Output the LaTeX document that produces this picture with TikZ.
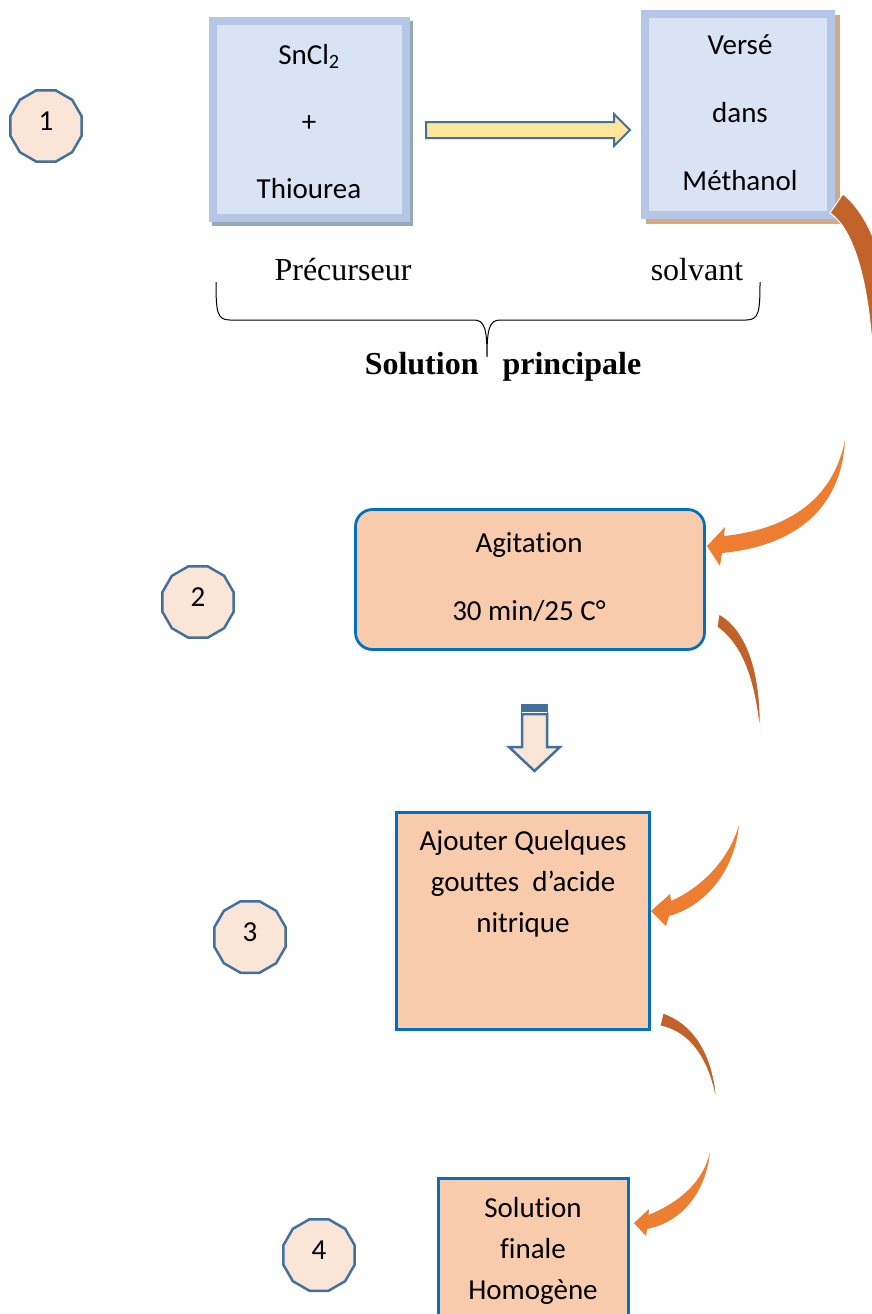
\documentclass[tikz,border=0pt]{standalone}
\usepackage{fontspec}
\setmainfont{Carlito}[Ligatures=NoCommon]
\newfontfamily\timesfont{Liberation Serif}
\usetikzlibrary{shapes.geometric}

\definecolor{stepfill}{HTML}{FBE5D6}
\definecolor{steelb}{HTML}{41719C}
\definecolor{paleblue}{HTML}{DAE3F3}
\definecolor{midblue}{HTML}{B4C7E7}
\definecolor{greyshadow}{HTML}{93A9B4}
\definecolor{tanshadow}{HTML}{D6A986}
\definecolor{peach}{HTML}{F8CBAD}
\definecolor{boxblue}{HTML}{0070C0}
\definecolor{arrowyellow}{HTML}{FFE699}
\definecolor{rust}{HTML}{C0622A}
\definecolor{tangerine}{HTML}{ED7D31}

\begin{document}
\begin{tikzpicture}[x=1pt,y=-1pt,
  txt/.style={anchor=base, inner sep=0pt, font=\fontsize{29}{35}\selectfont},
  serif/.style={anchor=base, inner sep=0pt, font=\timesfont\fontsize{32}{38}\selectfont},
  serifbold/.style={serif, font=\timesfont\bfseries\fontsize{32}{38}\selectfont},
  stepmark/.style={regular polygon, regular polygon sides=12, minimum size=74pt,
    inner sep=0pt, draw=steelb, fill=stepfill, line width=2.5pt},
  bluebox/.style={rectangle, draw=midblue, fill=paleblue, line width=8pt, inner sep=0pt},
  shadowbox/.style={rectangle, inner sep=0pt},
  peachbox/.style={rectangle, draw=boxblue, fill=peach, line width=2.75pt, inner sep=0pt},
  rustband/.style={fill=rust, draw=white, line width=1pt},
  orangearrow/.style={fill=tangerine}
]
\useasboundingbox (0,0) rectangle (872,1314);

% ---------- step markers ----------
\node[stepmark] (s1) at (46,126) {};
\node[txt] (n1) at (46,130) {1};
\node[stepmark] (s2) at (198,602) {};
\node[txt] (n2) at (198,606) {2};
\node[stepmark] (s3) at (250,937) {};
\node[txt] (n3) at (250,941) {3};
\node[stepmark] (s4) at (319,1255) {};
\node[txt] (n4) at (319,1259) {4};

% ---------- precursor box ----------
\node[shadowbox, fill=greyshadow, minimum width=201pt, minimum height=205pt] (mixsh) at (312.5,123.5) {};
\node[bluebox, minimum width=193pt, minimum height=197pt] (mix) at (309.5,119.5) {};
\node[txt] (mixa) at (309,64) {SnCl\textsubscript{2}};
\node[txt] (mixb) at (309,131) {+};
\node[txt] (mixc) at (309,198) {Thiourea};

% ---------- solvent box ----------
\node[shadowbox, fill=tanshadow, minimum width=194pt, minimum height=209pt] (solvsh) at (743,119.5) {};
\node[bluebox, minimum width=186pt, minimum height=201pt] (solv) at (738,114.5) {};
\node[txt] (solva) at (740,55) {Versé};
\node[txt] (solvb) at (740,122) {dans};
\node[txt] (solvc) at (740,190) {Méthanol};

% block arrow between the two boxes
\draw[fill=arrowyellow, draw=steelb, line width=2pt, line join=miter]
  (426,122) -- (614,122) -- (614,114) -- (630,130) -- (614,146) -- (614,138) -- (426,138) -- cycle;

% ---------- brace and labels ----------
\node[serif] (prec) at (343,280) {Précurseur};
\node[serif] (solvlbl) at (697,280) {solvant};
\draw[line width=1pt]
  (216,282) .. controls (216,312) and (217,320) .. (230,320) -- (474,320)
  .. controls (485,320) and (487,330) .. (487,357)
  .. controls (487,330) and (489,320) .. (500,320) -- (746,320)
  .. controls (759,320) and (760,312) .. (760,282);
\node[serifbold] (solp) at (503,374) {Solution\hspace{0.75em}principale};

% ---------- stirring ----------
\node[peachbox, rounded corners=17pt, minimum width=349pt, minimum height=140pt] (agit) at (530,579.5) {};
\node[txt] (agita) at (529,552) {Agitation};
\node[txt] (agitb) at (529,620) {30 min/25 C°};

% down arrow
\fill[steelb] (520.75,703.75) rectangle (548.25,715);
\draw[fill=stepfill, draw=steelb, line width=2.5pt, line join=miter]
  (522,714) -- (547,714) -- (547,747) -- (560,747) -- (534.5,771) -- (509,747) -- (522,747) -- cycle;
\fill[steelb] (520.75,703.75) rectangle (548.25,711);
\draw[white, line width=1.2pt] (522.25,712.2) -- (546.75,712.2);

% ---------- acid ----------
\node[peachbox, minimum width=253pt, minimum height=217pt] (acid) at (523,921) {};
\node[txt] (acida) at (523,850) {Ajouter Quelques};
\node[txt] (acidb) at (523,891) {gouttes~~d’acide};
\node[txt] (acidc) at (523,932) {nitrique};

% ---------- final solution ----------
\node[peachbox, minimum width=190pt, minimum height=165pt] (fin) at (533.5,1261) {};
\node[txt] (fina) at (533,1217) {Solution};
\node[txt] (finb) at (533,1258) {finale};
\node[txt] (finc) at (533,1299) {Homogène};

% ---------- curved arrows ----------
% methanol -> stirring
\path[rustband] (843,194) .. controls (868,214) and (890,262) .. (888,330)
  .. controls (886,360) and (880,380) .. (874,392)
  .. controls (873,300) and (858,232) .. (830,213) -- cycle;
\path[orangearrow] (845,440) .. controls (842,500) and (805,545) .. (722,553)
  -- (720,566) -- (707,546) -- (725,527) -- (724,536)
  .. controls (800,528) and (835,490) .. (845,440) -- cycle;

% stirring -> acid
\path[rustband] (719,614) .. controls (748,630) and (762,675) .. (760,735)
  .. controls (755,680) and (742,645) .. (717,627) -- cycle;
\path[orangearrow] (739,825) .. controls (735,868) and (708,905) .. (669,916)
  -- (666,926) -- (651,911) -- (670,894) -- (671,901)
  .. controls (700,888) and (728,862) .. (739,825) -- cycle;

% acid -> final solution
\path[rustband] (663,1013) .. controls (690,1022) and (715,1050) .. (717,1107)
  .. controls (710,1060) and (690,1032) .. (660,1026) -- cycle;
\path[orangearrow] (710,1152) .. controls (706,1192) and (682,1222) .. (647,1229)
  -- (646,1236) -- (634,1223) -- (649,1209) -- (648.5,1215)
  .. controls (680,1202) and (703,1182) .. (710,1152) -- cycle;
\end{tikzpicture}
\end{document}
